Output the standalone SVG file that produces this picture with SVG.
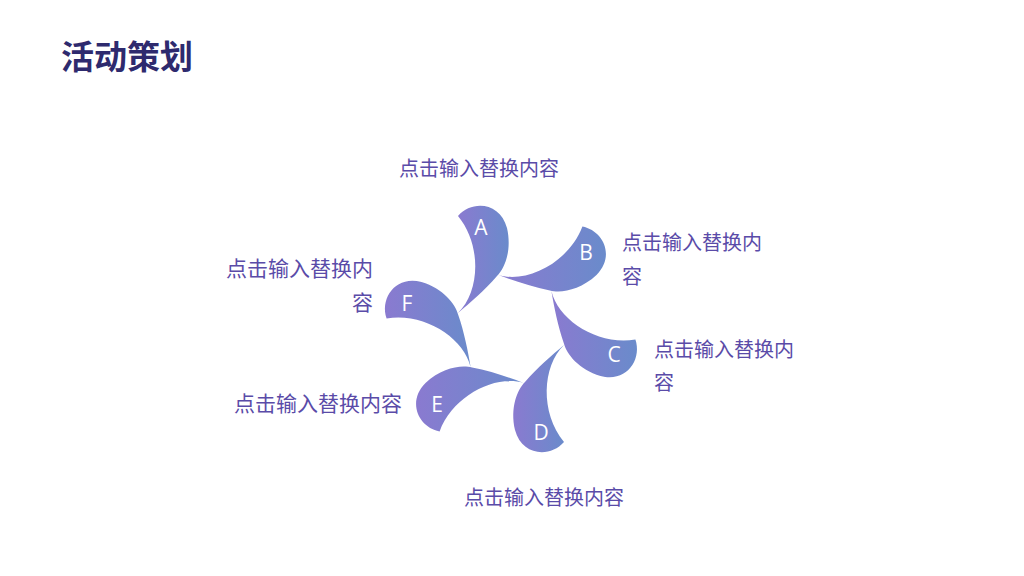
<svg xmlns="http://www.w3.org/2000/svg" width="1024" height="576" viewBox="0 0 1024 576">
  <defs>
    <linearGradient id="petalGrad" x1="0" y1="0" x2="1" y2="0">
      <stop offset="0" stop-color="#8a7ad0"/>
      <stop offset="1" stop-color="#6a8bcb"/>
    </linearGradient>
    <style>
      .petal { fill: url(#petalGrad); }
      .letter { font-family: "Open Sans", "Noto Sans", sans-serif; font-size: 21px; fill: #ffffff; text-anchor: middle; }
      .label { font-family: "Noto Sans CJK SC", "Noto Sans", sans-serif; font-size: 20px; fill: #5a4ba8; }
      .title { font-family: "Noto Sans CJK SC", "Noto Sans", sans-serif; font-size: 33px; font-weight: bold; fill: #2e2a6e; }
    </style>
  </defs>
  <rect width="1024" height="576" fill="#ffffff"/>

  <g id="title">
    <text class="title" x="61" y="69">活动策划</text>
  </g>

  <g id="connectors"></g>

  <g id="node-A">
    <path class="petal" d="M458,216 C472,200 500,202 507,228 C512,250 505,268 497,276 C485,290 470,303 458,313 C480,292 482,245 458,216 Z"/>
    <text class="letter" x="481" y="235">A</text>
    <text class="label" x="479" y="176" text-anchor="middle">点击输入替换内容</text>
  </g>

  <g id="node-B">
    <path class="petal" d="M582.4,226.6 C603.2,230.7 615.5,256 596.5,275 C579.9,290.4 560.8,293.3 549.9,290.4 C531.8,287 513,280.5 498.4,275.1 C527.5,283.7 569.2,261.9 582.4,226.6 Z"/>
    <text class="letter" x="586" y="260">B</text>
    <text class="label" x="622" y="250">点击输入替换内</text>
    <text class="label" x="622" y="284">容</text>
  </g>

  <g id="node-C">
    <path class="petal" d="M635.4,339.6 C642.2,359.7 626.5,383 600.5,376 C578.9,369.4 566.8,354.3 563.9,343.4 C557.8,326 554,306.5 551.4,291.1 C558.5,320.7 598.2,345.9 635.4,339.6 Z"/>
    <text class="letter" x="614" y="362">C</text>
    <text class="label" x="654" y="357">点击输入替换内</text>
    <text class="label" x="654" y="390">容</text>
  </g>

  <g id="node-D">
    <path class="petal" d="M564,442 C550,458 522,456 515,430 C510,408 517,390 525,382 C537,368 552,355 564,345 C542,366 540,413 564,442 Z"/>
    <text class="letter" x="541" y="440">D</text>
    <text class="label" x="544" y="505" text-anchor="middle">点击输入替换内容</text>
  </g>

  <g id="node-E">
    <path class="petal" d="M439.6,431.4 C418.8,427.3 406.5,402 425.5,383 C442.1,367.6 461.2,364.7 472.1,367.6 C490.2,371 509,377.5 523.6,382.9 C494.5,374.4 452.8,396.1 439.6,431.4 Z"/>
    <text class="letter" x="437" y="412">E</text>
    <text class="label" x="402" y="411" text-anchor="end" style="font-size:21px">点击输入替换内容</text>
  </g>

  <g id="node-F">
    <path class="petal" d="M386.6,318.4 C379.8,298.3 395.5,275 421.5,282 C443.1,288.6 455.2,303.7 458.1,314.6 C464.2,332 468,351.5 470.6,366.9 C463.5,337.3 423.8,312.1 386.6,318.4 Z"/>
    <text class="letter" x="407" y="311">F</text>
    <text class="label" x="373" y="276" text-anchor="end" style="font-size:21px">点击输入替换内</text>
    <text class="label" x="373" y="310" text-anchor="end" style="font-size:21px">容</text>
  </g>
</svg>
